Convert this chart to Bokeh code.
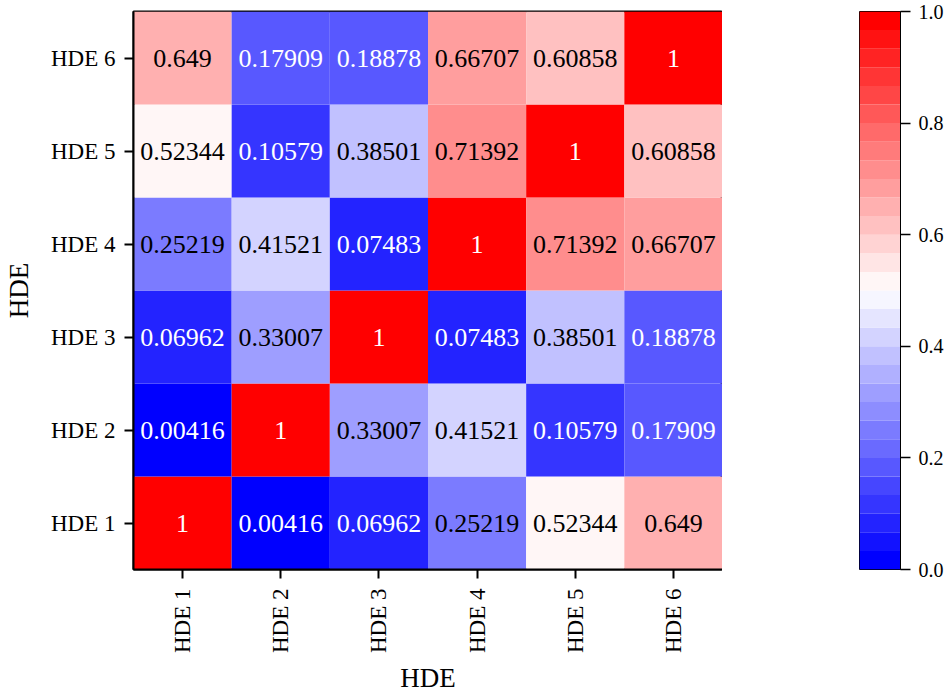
import math
from bokeh.plotting import figure
from bokeh.models import ColumnDataSource, LinearColorMapper, FixedTicker, PrintfTickFormatter, Range1d
from bokeh.layouts import row
from bokeh.core.properties import value
from bokeh.embed import file_html
from bokeh.resources import INLINE

labels = ["HDE 1", "HDE 2", "HDE 3", "HDE 4", "HDE 5", "HDE 6"]
matrix = [
    [1, 0.00416, 0.06962, 0.25219, 0.52344, 0.649],
    [0.00416, 1, 0.33007, 0.41521, 0.10579, 0.17909],
    [0.06962, 0.33007, 1, 0.07483, 0.38501, 0.18878],
    [0.25219, 0.41521, 0.07483, 1, 0.71392, 0.66707],
    [0.52344, 0.10579, 0.38501, 0.71392, 1, 0.60858],
    [0.649, 0.17909, 0.18878, 0.66707, 0.60858, 1],
]
cbar_ticks = [0.0, 0.2, 0.4, 0.6, 0.8, 1.0]

# bwr colormap, 30 levels
N = 30
palette = []
for i in range(N):
    t = i / (N - 1)
    if t < 0.5:
        r = g = 2 * t
        b = 1.0
    else:
        r = 1.0
        g = b = 2 * (1 - t)
    palette.append("#%02x%02x%02x" % (round(r * 255), round(g * 255), round(b * 255)))

xs, ys, vals, txt, tcol = [], [], [], [], []
for ri, rw in enumerate(matrix):
    for ci, v in enumerate(rw):
        xs.append(labels[ci])
        ys.append(labels[ri])
        vals.append(v)
        txt.append(str(v))
        tcol.append("white" if abs(v - 0.5) > 0.3 else "black")

src = ColumnDataSource(dict(x=xs, y=ys, v=vals, t=txt, c=tcol))
mapper = LinearColorMapper(palette=palette, low=0, high=1)

FONT = "Liberation Serif"
TOP = 11
FH = 558
p = figure(x_range=labels, y_range=labels, frame_width=589, frame_height=FH,
           output_backend="svg", toolbar_location=None, tools="",
           min_border_left=123, min_border_top=TOP, min_border_bottom=0, min_border_right=0)
p.rect(x="x", y="y", width=1, height=1, source=src,
       fill_color={"field": "v", "transform": mapper}, line_color=None)
p.text(x="x", y="y", text="t", source=src, text_color="c",
       text_align="center", text_baseline="middle",
       text_font=value(FONT), text_font_size="26px")

p.grid.visible = False
p.outline_line_color = "black"
p.outline_line_width = 2
for ax in (p.xaxis, p.yaxis):
    ax.axis_label = "HDE"
    ax.axis_label_text_font = FONT
    ax.axis_label_text_font_size = "27px"
    ax.axis_label_text_font_style = "normal"
    ax.axis_label_text_color = "black"
    ax.major_label_text_font = FONT
    ax.major_label_text_font_size = "23px"
    ax.major_label_text_color = "black"
    ax.axis_line_color = "black"
    ax.axis_line_width = 2
    ax.major_tick_line_color = "black"
    ax.major_tick_line_width = 2
    ax.major_tick_out = 9
    ax.major_tick_in = 0
p.xaxis.major_label_orientation = math.pi / 2
p.xaxis.major_label_standoff = 10
p.xaxis.axis_label_standoff = 7
p.yaxis.major_label_standoff = 9
p.yaxis.axis_label_standoff = 14

# colorbar as its own small figure
lo = [i / N for i in range(N)]
hi = [(i + 1) / N for i in range(N)]
cb_src = ColumnDataSource(dict(bottom=lo, top=hi, color=palette))
cb = figure(x_range=Range1d(0, 1), y_range=Range1d(0, 1), frame_width=41, frame_height=FH,
            output_backend="svg", toolbar_location=None, tools="",
            y_axis_location="right", min_border_left=137, min_border_top=TOP,
            min_border_bottom=14, min_border_right=0)
cb.quad(left=0, right=1, bottom="bottom", top="top", fill_color="color", line_color=None,
        source=cb_src)
cb.xaxis.visible = False
cb.grid.visible = False
cb.outline_line_color = "black"
cb.outline_line_width = 1
cb.yaxis.ticker = FixedTicker(ticks=cbar_ticks)
cb.yaxis.formatter = PrintfTickFormatter(format="%.1f")
cb.yaxis.major_label_text_font = FONT
cb.yaxis.major_label_text_font_size = "20px"
cb.yaxis.major_label_text_color = "black"
cb.yaxis.axis_line_color = "black"
cb.yaxis.axis_line_width = 1
cb.yaxis.major_tick_line_color = "black"
cb.yaxis.major_tick_line_width = 1.5
cb.yaxis.major_tick_out = 10
cb.yaxis.major_tick_in = 0
cb.yaxis.minor_tick_line_color = None
cb.yaxis.major_label_standoff = 8

layout = row(p, cb)
open("out.html", "w").write(file_html(layout, INLINE))
